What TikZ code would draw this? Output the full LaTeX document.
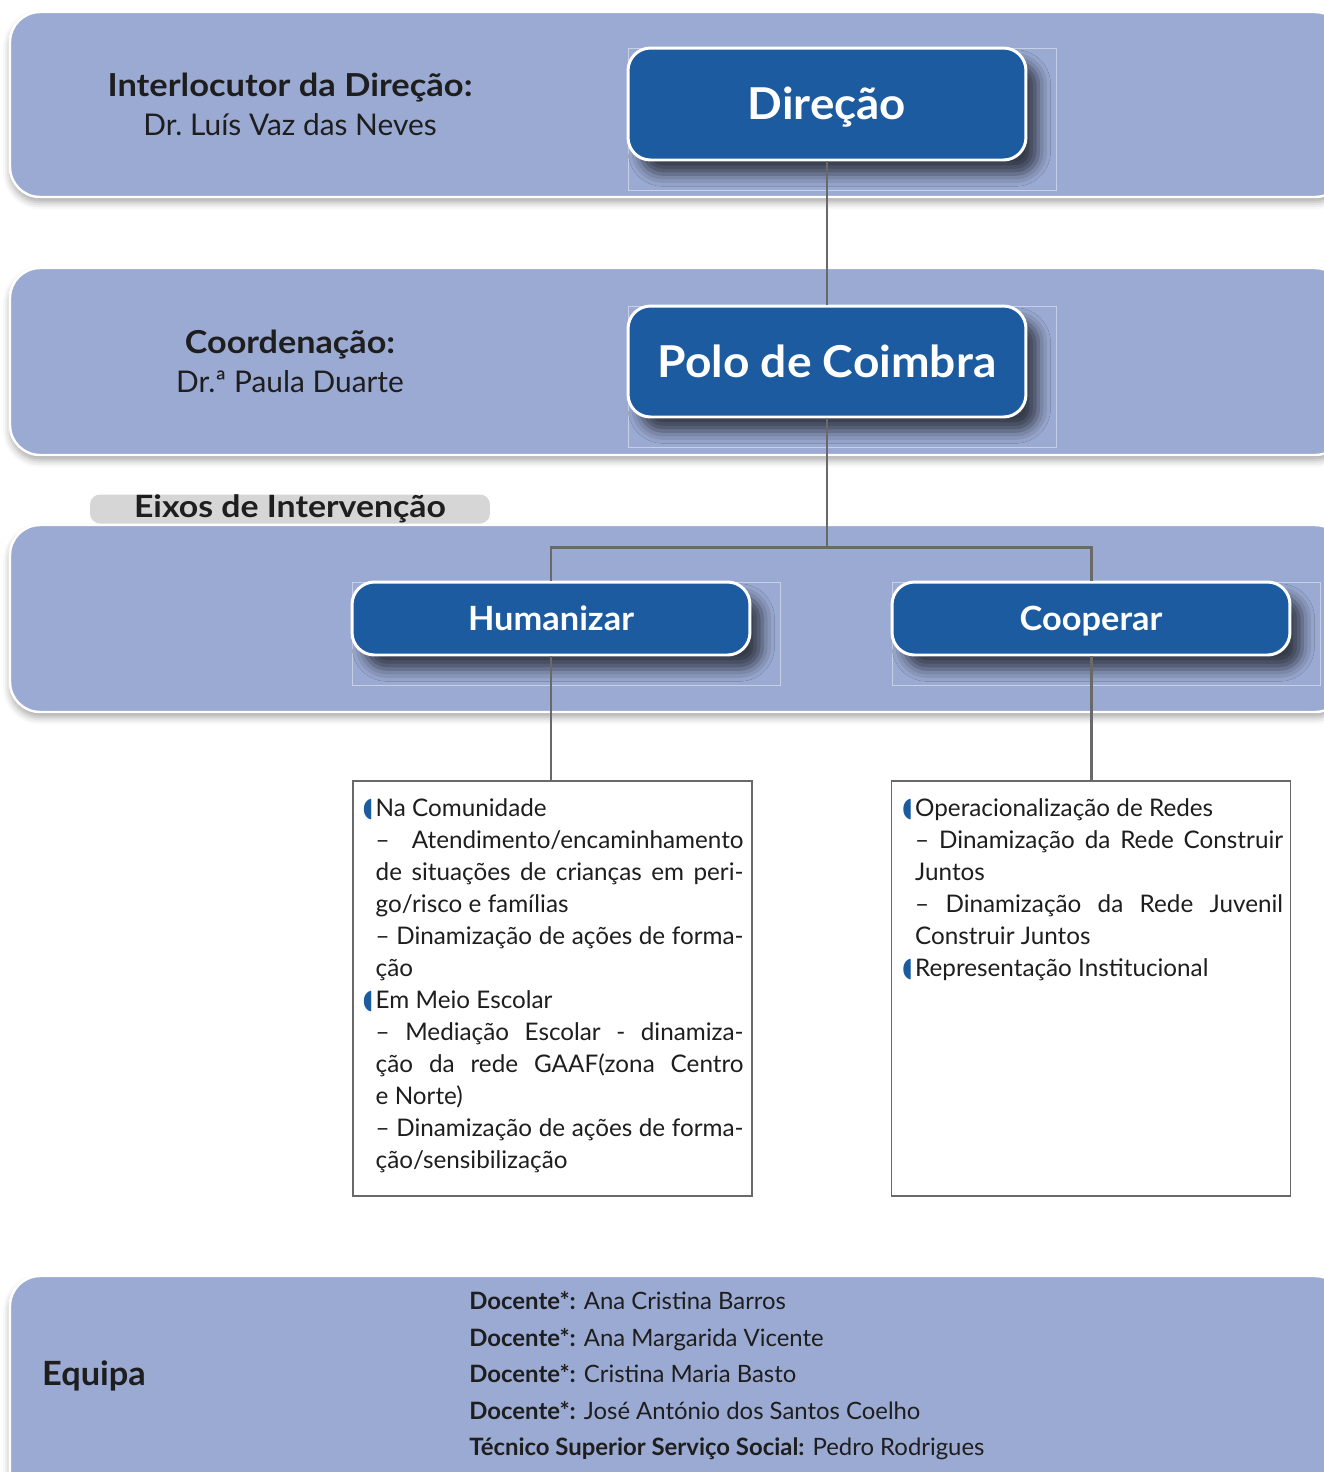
\documentclass[tikz,border=0pt]{standalone}
\usepackage{fontspec}
\usepackage{xcolor}
\setmainfont{Lato}
\newfontfamily\symfont{DejaVu Sans}
\usetikzlibrary{positioning,shadows.blur}

\definecolor{bandblue}{RGB}{155,170,211}
\definecolor{boxblue}{RGB}{28,91,159}
\definecolor{linegray}{RGB}{105,105,105}
\definecolor{tabgray}{RGB}{214,214,214}
\definecolor{inkdark}{RGB}{30,30,30}

% half disc in front of the list headings
\newcommand{\halfbul}{\leavevmode\llap{{\symfont\color{boxblue}\scalebox{0.8}[1.1]{◖}}\hspace{1.5pt}}}
% a justified line inside the lists
\newcommand{\fullline}[1]{\makebox[\hsize][s]{#1}}
% looser word spaces for the lists
\newcommand{\listspacing}{\spaceskip=0.26em plus 0.6em minus 0.14em\relax}
% wider bold, closer to the original face
\newcommand{\widebf}[2]{\scalebox{#1}[1]{\bfseries #2}}

\tikzset{
  band/.style={fill=bandblue, draw=white, line width=1.4pt, rounded corners=0.6cm,
    blur shadow={shadow xshift=0pt, shadow yshift=-3pt, shadow blur radius=4pt, shadow opacity=35}},
  bigbox/.style={fill=boxblue, draw=white, line width=1.7pt, rounded corners=0.45cm,
    text=white, minimum width=7.96cm, inner sep=0pt, text depth=0pt,
    blur shadow={shadow xshift=7pt, shadow yshift=-8pt, shadow blur radius=7pt, shadow opacity=65}},
  ghost/.style={draw=bandblue!55!white, line width=0.4pt},
  conn/.style={draw=linegray, line width=1.7pt},
  listbox/.style={draw=linegray, line width=0.8pt, fill=white, minimum width=7.98cm, minimum height=8.3cm},
  listtext/.style={text width=7.36cm, align=left, inner sep=0pt, text=inkdark,
    font=\fontsize{13.8}{18.2}\selectfont},
  headlabel/.style={align=center, text=inkdark, font=\fontsize{17}{22.2}\selectfont}
}

\begin{document}
\begin{tikzpicture}[x=0.02cm, y=-0.02cm]
  \useasboundingbox (0,0) rectangle (1324,1472);
  \clip (0,0) rectangle (1324,1472);

  % the four light bands
  \path[band] (10,12) rectangle (1345,197);
  \path[band] (10,268) rectangle (1345,455);
  \path[band] (10,525) rectangle (1345,712);
  \path[band] (10,1276) rectangle (1345,1520);

  % faint frames left round the dark boxes
  \draw[ghost] (628,48) rectangle (1056,190);
  \draw[ghost] (628,306) rectangle (1056,447);
  \draw[ghost] (352,582) rectangle (780,685);
  \draw[ghost] (892,582) rectangle (1320,685);

  % tab over the third band
  \node[fill=tabgray, rounded corners=0.2cm, minimum width=8cm, minimum height=0.58cm, inner sep=0pt,
    font=\fontsize{17.5}{18}\selectfont, text=inkdark] (eixos) at (290,509) {\widebf{1.1}{Eixos de Interven\c{c}\~ao}};

  % left hand labels
  \node[headlabel] (interloc) at (290,104) {\fontsize{18}{22.2}\selectfont\widebf{1.09}{Interlocutor da Dire\c{c}\~ao:}\\Dr.\ Lu\'is Vaz das Neves};
  \node[headlabel] (coord) at (290,361) {\fontsize{18}{22.2}\selectfont\widebf{1.08}{Coordena\c{c}\~ao:}\\Dr.ª Paula Duarte};

  % dark boxes
  \node[bigbox, minimum height=2.24cm, text height=18pt, font=\fontsize{25}{28}\selectfont] (direcao) at (827,104) {\widebf{1.04}{Dire\c{c}\~ao}};
  \node[bigbox, minimum height=2.22cm, text height=18pt, font=\fontsize{25}{28}\selectfont] (polo) at (827,361.5) {\widebf{1.05}{Polo de Coimbra}};
  \node[bigbox, minimum height=1.46cm, text height=13.7pt, font=\fontsize{19}{22}\selectfont] (human) at (551,618.5) {\widebf{1.03}{Humanizar}};
  \node[bigbox, minimum height=1.46cm, text height=13.7pt, font=\fontsize{19}{22}\selectfont] (coop) at (1091,618.5) {\widebf{1.03}{Cooperar}};

  % list boxes
  \node[listbox] (humbox) at (552.5,988.5) {};
  \node[listbox] (coopbox) at (1091,988.5) {};

  \node[listtext, below right=0.36cm and 0.46cm of humbox.north west] (humtext) {\listspacing
    \halfbul Na Comunidade\\
    \fullline{– \hfill Atendimento/encaminhamento}\\
    \fullline{de situa\c{c}\~oes de crian\c{c}as em peri-}\\
    go/risco e fam\'ilias\\
    \fullline{– Dinamiza\c{c}\~ao de a\c{c}\~oes de forma-}\\
    \c{c}\~ao\\
    \halfbul Em Meio Escolar\\
    \fullline{– Media\c{c}\~ao Escolar - dinamiza-}\\
    \fullline{\c{c}\~ao da rede GAAF(zona Centro}\\
    e Norte)\\
    \fullline{– Dinamiza\c{c}\~ao de a\c{c}\~oes de forma-}\\
    \c{c}\~ao/sensibiliza\c{c}\~ao};

  \node[listtext, below right=0.36cm and 0.48cm of coopbox.north west] (cooptext) {\listspacing
    \halfbul Operacionaliza\c{c}\~ao de Redes\\
    \fullline{– Dinamiza\c{c}\~ao da Rede Construir}\\
    Juntos\\
    \fullline{– Dinamiza\c{c}\~ao da Rede Juvenil}\\
    Construir Juntos\\
    \halfbul Representa\c{c}\~ao Institucional};

  % connectors
  \coordinate (split) at (827,547);
  \draw[conn] (direcao) -- (polo);
  \draw[conn] (polo) -- (split);
  \draw[conn] (human.north) |- (split);
  \draw[conn] (coop.north) |- (split);
  \draw[conn] (human.south) -- (human.south |- humbox.north);
  \draw[conn] (coop.south) -- (coop.south |- coopbox.north);

  % team band
  \node[text=inkdark, font=\fontsize{19}{22}\selectfont] (equipa) at (94,1376) {\widebf{1.03}{Equipa}};
  \node[anchor=west, align=left, text=inkdark, inner sep=0pt, font=\fontsize{13.6}{20.8}\selectfont] (team) at (469,1376) {%
    \textbf{Docente*:} Ana Cristina Barros\\
    \textbf{Docente*:} Ana Margarida Vicente\\
    \textbf{Docente*:} Cristina Maria Basto\\
    \textbf{Docente*:} Jos\'e Ant\'onio dos Santos Coelho\\
    \textbf{T\'ecnico Superior Servi\c{c}o Social:} Pedro Rodrigues};
\end{tikzpicture}
\end{document}
